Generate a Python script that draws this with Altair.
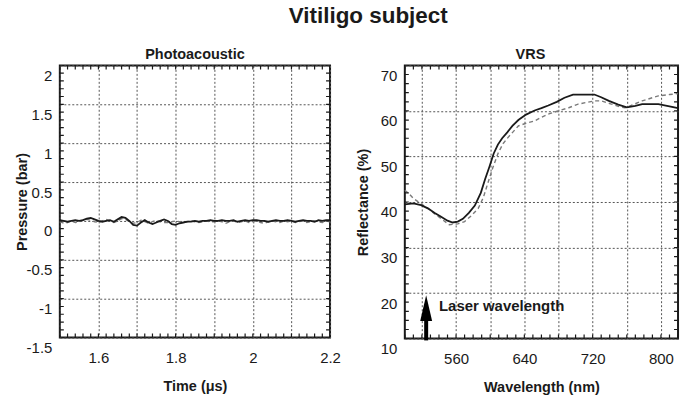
import json
import altair as alt
import pandas as pd

FONT = "Liberation Sans"
INK = "#1a1a1a"
GRID_COLOR = "#555555"

# ---- Photoacoustic trace: time (µs) and pressure (bar) ----
pa_time = [1.50, 1.51, 1.52, 1.53, 1.54, 1.55, 1.56, 1.57, 1.58, 1.59,
           1.60, 1.61, 1.62, 1.63, 1.64, 1.65, 1.66, 1.67, 1.68, 1.69,
           1.70, 1.71, 1.72, 1.73, 1.74, 1.75, 1.76, 1.77, 1.78, 1.79,
           1.80, 1.81, 1.82, 1.83, 1.84, 1.85, 1.86, 1.87, 1.88, 1.89,
           1.90, 1.91, 1.92, 1.93, 1.94, 1.95, 1.96, 1.97, 1.98, 1.99,
           2.00, 2.01, 2.02, 2.03, 2.04, 2.05, 2.06, 2.07, 2.08, 2.09,
           2.10, 2.11, 2.12, 2.13, 2.14, 2.15, 2.16, 2.17, 2.18, 2.19,
           2.20]
pa_pressure_solid = [0.01, 0.00, -0.01, 0.00, 0.01, 0.00, 0.01, 0.03, 0.04, 0.02,
                     0.00, -0.01, 0.00, 0.01, -0.01, 0.02, 0.05, 0.04, 0.00, -0.05,
                     -0.06, -0.02, 0.01, -0.02, -0.04, -0.02, 0.00, 0.02, 0.00, -0.04,
                     -0.05, -0.03, -0.02, -0.01, -0.01, 0.00, -0.01, 0.00, 0.00, 0.01,
                     0.00, 0.00, 0.01, 0.00, 0.00, 0.01, -0.01, 0.00, 0.01, 0.00,
                     0.01, 0.01, 0.00, 0.00, -0.01, 0.00, 0.01, 0.00, 0.00, 0.01,
                     0.00, -0.01, 0.00, 0.01, 0.00, 0.00, -0.01, 0.01, 0.00, 0.01,
                     0.01]
pa_pressure_dashed = [-0.01, -0.03, -0.02, 0.00, -0.02, -0.01, 0.01, 0.02, 0.01, -0.01,
                      -0.02, 0.00, 0.02, 0.00, -0.02, 0.00, 0.03, 0.02, -0.01, -0.03,
                      -0.02, 0.01, -0.01, -0.03, -0.01, 0.01, -0.01, -0.02, -0.02, -0.01,
                      0.00, -0.01, -0.02, -0.01, 0.00, -0.01, -0.02, -0.01, 0.00, -0.01,
                      -0.01, 0.00, -0.01, -0.03, -0.01, 0.00, -0.02, -0.01, 0.00, -0.02,
                      -0.01, 0.00, -0.02, -0.03, -0.01, 0.00, -0.01, -0.02, 0.00, -0.01,
                      0.00, -0.02, -0.01, 0.00, -0.02, -0.01, 0.00, -0.01, -0.02, 0.00,
                      -0.01]
pa_x_grid = [1.5, 1.6, 1.7, 1.8, 1.9, 2.0, 2.1, 2.2]
pa_x_labels = ["1.6", "1.8", "2", "2.2"]
pa_y_grid = [-1.5, -1.0, -0.5, 0.0, 0.5, 1.0, 1.5, 2.0]
pa_minor_x_step = 0.02
pa_minor_y_step = 0.1

# ---- VRS reflectance spectra: wavelength (nm) and reflectance (%) ----
vrs_nm_solid = [500, 510, 519, 527, 535, 542, 550, 556, 562, 568,
                575, 582, 589, 594, 599, 604, 609, 614, 620, 626,
                633, 642, 652, 660, 668, 678, 687, 697, 708, 722,
                730, 739, 750, 760, 770, 778, 790, 797, 810, 820]
vrs_refl_solid = [39.5, 39.7, 39.3, 38.6, 37.6, 36.8, 35.9, 35.5, 35.7, 36.3,
                  37.6, 39.2, 42.0, 45.0, 47.7, 50.6, 52.6, 54.0, 55.3, 56.7,
                  58.0, 59.2, 60.1, 60.6, 61.2, 62.0, 62.9, 63.6, 63.6, 63.6,
                  63.0, 62.2, 61.4, 60.8, 61.1, 61.5, 61.5, 61.5, 61.0, 60.6]
vrs_nm_dashed = [500, 505, 510, 519, 527, 535, 545, 552, 562, 570,
                 578, 586, 592, 597, 603, 609, 615, 621, 633, 642,
                 652, 660, 668, 683, 692, 703, 722, 730, 742, 752,
                 758, 765, 778, 790, 797, 810, 820]
vrs_refl_dashed = [42.6, 41.8, 40.8, 39.6, 38.6, 37.4, 36.0, 35.0, 35.2, 35.7,
                   37.0, 38.6, 41.0, 44.0, 47.5, 50.6, 52.8, 54.2, 56.7, 57.3,
                   57.8, 58.6, 59.3, 60.2, 60.7, 61.5, 62.2, 62.2, 61.5, 60.9,
                   60.7, 61.2, 62.2, 62.9, 63.3, 63.6, 63.8]
vrs_x_grid = [520, 560, 600, 640, 680, 720, 760, 800]
vrs_x_labels = ["560", "640", "720", "800"]
vrs_y_grid = [10, 20, 30, 40, 50, 60, 70]
vrs_minor_x_step = 10
vrs_minor_y_step = 2

# Laser marker: wavelength, arrow shaft span and head position (%), label anchor
laser_nm = [525]
laser_shaft_low = [9.6]
laser_shaft_high = [14.2]
laser_head = [16.7]
laser_label_nm = [540]
laser_label_refl = [17.2]
laser_label = ["Laser wavelength"]

TICK_FS = 15
TITLE_FS = 14.5


def main_x_axis(grid_values, shown_labels, fmt, title):
    return alt.Axis(
        values=grid_values, format=fmt,
        labelExpr=f"indexof({json.dumps(shown_labels)}, datum.label) >= 0 ? datum.label : ''",
        grid=True, gridColor=GRID_COLOR, gridDash=[2, 2], gridWidth=1,
        ticks=False, domain=False, labelFlush=False, labelOverlap=False,
        labelFont=FONT, labelFontSize=TICK_FS, labelColor=INK, labelPadding=13,
        title=title, titleFont=FONT, titleFontSize=TITLE_FS, titleFontWeight="bold",
        titleColor=INK, titlePadding=14,
    )


def main_y_axis(grid_values, fmt, title, title_x):
    return alt.Axis(
        values=grid_values, format=fmt,
        labelExpr="replace(datum.label, '\u2212', '-')",
        grid=True, gridColor=GRID_COLOR, gridDash=[2, 2], gridWidth=1,
        ticks=False, domain=False, labelFlush=False, labelOverlap=False,
        labelOffset=10, labelFont=FONT, labelFontSize=TICK_FS, labelColor=INK,
        labelPadding=8,
        title=title, titleFont=FONT, titleFontSize=TITLE_FS, titleFontWeight="bold",
        titleColor=INK, titleX=title_x,
    )


def frame_ticks(xs, ys, xdom, ydom, xstep, ystep):
    # short inward tick marks along all four sides of the frame;
    # each tick is centred on the edge and clipped to the plot area
    tx = alt.Chart(alt.sequence(xdom[0], xdom[1] + xstep / 2, xstep, as_="v"))
    ty = alt.Chart(alt.sequence(ydom[0], ydom[1] + ystep / 2, ystep, as_="v"))
    style = dict(color=INK, size=8, thickness=1.2, clip=True, opacity=1)
    out = []
    for edge in ydom:
        out.append(tx.mark_tick(orient="vertical", **style).encode(
            x=alt.X("v:Q", scale=xs, axis=None),
            y=alt.Y(datum=edge, scale=ys, axis=None),
        ))
    for edge in xdom:
        out.append(ty.mark_tick(orient="horizontal", **style).encode(
            y=alt.Y("v:Q", scale=ys, axis=None),
            x=alt.X(datum=edge, scale=xs, axis=None),
        ))
    return out


def panel(df_solid, df_dashed, xf, yf, xdom, ydom, xmain, ymain,
          xstep, ystep, w, h, title, title_dx, extra=None):
    xs = alt.Scale(domain=xdom, nice=False, zero=False)
    ys = alt.Scale(domain=ydom, nice=False, zero=False)
    solid = alt.Chart(df_solid).mark_line(color=INK, strokeWidth=1.8).encode(
        x=alt.X(f"{xf}:Q", scale=xs, axis=xmain),
        y=alt.Y(f"{yf}:Q", scale=ys, axis=ymain),
    )
    dashed = alt.Chart(df_dashed).mark_line(
        color="#7a7a7a", strokeWidth=1.4, strokeDash=[4, 3]
    ).encode(
        x=alt.X(f"{xf}:Q", scale=xs, axis=None),
        y=alt.Y(f"{yf}:Q", scale=ys, axis=None),
    )
    layers = [dashed, solid] + frame_ticks(xs, ys, xdom, ydom, xstep, ystep) + (extra or [])
    return alt.layer(*layers).resolve_axis(x="independent", y="independent").properties(
        width=w, height=h,
        title=alt.TitleParams(title, font=FONT, fontSize=TITLE_FS, fontWeight="bold",
                              color=INK, offset=3, dx=title_dx),
    )


pa_df_a = pd.DataFrame({"t": pa_time, "p": pa_pressure_solid})
pa_df_b = pd.DataFrame({"t": pa_time, "p": pa_pressure_dashed})
photoacoustic = panel(
    pa_df_a, pa_df_b, "t", "p", [1.5, 2.2], [-1.5, 2.0],
    main_x_axis(pa_x_grid, pa_x_labels, ".1~f", "Time (\u03bcs)"),
    main_y_axis(pa_y_grid, ".1~f", "Pressure (bar)", -30),
    pa_minor_x_step, pa_minor_y_step, 271, 273, "Photoacoustic", 0,
)

vrs_df_a = pd.DataFrame({"nm": vrs_nm_solid, "r": vrs_refl_solid})
vrs_df_b = pd.DataFrame({"nm": vrs_nm_dashed, "r": vrs_refl_dashed})
laser_df = pd.DataFrame({
    "nm": laser_nm, "lo": laser_shaft_low, "hi": laser_shaft_high, "head": laser_head,
})
label_df = pd.DataFrame({"nm": laser_label_nm, "r": laser_label_refl, "text": laser_label})

vx = alt.Scale(domain=[500, 820], nice=False, zero=False)
vy = alt.Scale(domain=[10, 70], nice=False, zero=False)
shaft = alt.Chart(laser_df).mark_rule(color="black", strokeWidth=4).encode(
    x=alt.X("nm:Q", scale=vx, axis=None),
    y=alt.Y("lo:Q", scale=vy, axis=None),
    y2="hi:Q",
)
head = alt.Chart(laser_df).mark_point(
    shape="M0,-1L0.46,1L-0.46,1Z", size=676, filled=True, opacity=1, color="black"
).encode(
    x=alt.X("nm:Q", scale=vx, axis=None),
    y=alt.Y("head:Q", scale=vy, axis=None),
)
label = alt.Chart(label_df).mark_text(
    align="left", baseline="middle", font=FONT, fontSize=15, fontWeight="bold", color=INK
).encode(
    x=alt.X("nm:Q", scale=vx, axis=None),
    y=alt.Y("r:Q", scale=vy, axis=None),
    text="text:N",
)

vrs = panel(
    vrs_df_a, vrs_df_b, "nm", "r", [500, 820], [10, 70],
    main_x_axis(vrs_x_grid, vrs_x_labels, "d", "Wavelength (nm)"),
    main_y_axis(vrs_y_grid, "d", "Reflectance (%)", -34),
    vrs_minor_x_step, vrs_minor_y_step, 274, 274, "VRS", -11, extra=[shaft, head, label],
)

chart = alt.hconcat(photoacoustic, vrs, spacing=13).properties(
    title=alt.TitleParams("Vitiligo subject", font=FONT, fontSize=22.5, fontWeight="bold",
                          color=INK, anchor="middle", offset=19, dx=20),
    padding={"left": 14, "top": 4, "right": 5, "bottom": 5},
).configure_view(stroke=INK, strokeWidth=2)

chart.save("out.html", embed_options={"renderer": "svg", "actions": False})
